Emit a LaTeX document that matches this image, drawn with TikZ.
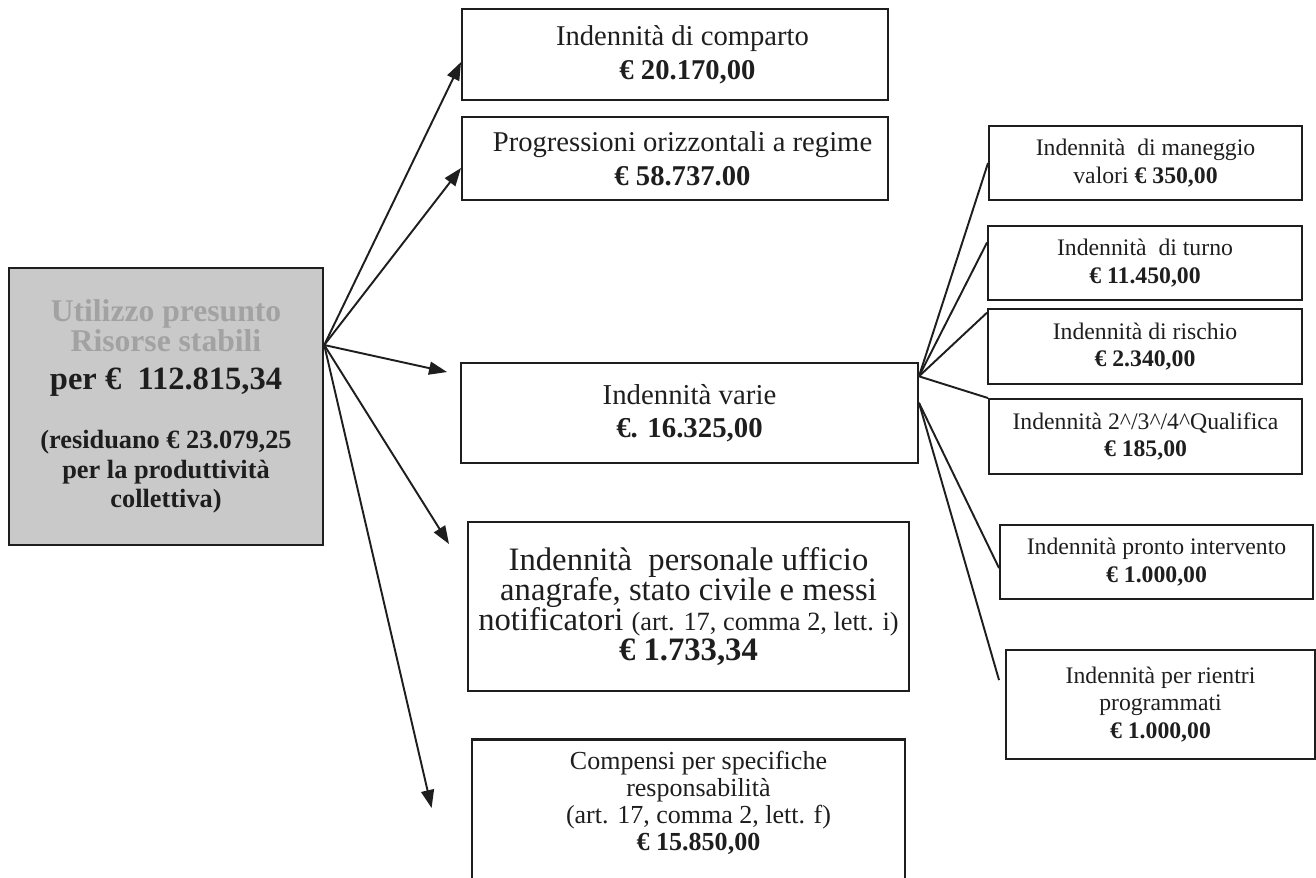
\documentclass[tikz,border=0pt]{standalone}
\usepackage{fontspec}
\setmainfont{Liberation Serif}
\usetikzlibrary{arrows.meta,calc}

\definecolor{boxgray}{HTML}{C9C9C9}
\definecolor{titlegray}{HTML}{A2A2A2}
\definecolor{ink}{HTML}{1E1E1E}

\tikzset{
  voce/.style 2 args={draw=ink, line width=1.1pt, inner sep=0pt, align=center,
    text=ink, minimum width=#1*0.02cm, minimum height=#2*0.02cm},
  freccia/.style={draw=ink, line width=1.1pt, -{Triangle[length=0.36cm,width=0.26cm]}},
  ramo/.style={draw=ink, line width=1.1pt},
  grande/.style={font=\fontsize{16.3}{19.4}\selectfont},
  piccola/.style={font=\fontsize{13.5}{15.6}\selectfont},
}

\begin{document}
\begin{tikzpicture}[x=0.02cm,y=-0.02cm]

		\useasboundingbox (0,0) rectangle (1316,877);
		\clip (0,0) rectangle (1316,877);

		% --- source box ---
		\node[voce={314}{277}, fill=boxgray, line width=1.4pt,
		      font=\bfseries\fontsize{15}{17}\selectfont] (risorse) at (166,406.5)
		  {\textcolor{titlegray}{\fontsize{18}{17}\selectfont Utilizzo presunto}\\
		   \textcolor{titlegray}{\fontsize{18}{17}\selectfont Risorse stabili}\\[4.6pt]
		   {\fontsize{18.5}{17}\selectfont per €\ \ 112.815,34}\\[16.6pt]
		   (residuano € 23.079,25\\
		   per la produttività\\
		   collettiva)};

		% ======================================================
		% middle column
		% ======================================================
		\node[voce={426}{91}, grande] (comparto) at (675,54.5)
		  {\hspace*{0.3cm}Indennità di comparto\\ \hspace*{0.5cm}\textbf{€ 20.170,00}};
		\node[voce={426}{83}, grande] (progressioni) at (675,158.5)
		  {\hspace*{0.3cm}Progressioni orizzontali a regime\\ \hspace*{0.3cm}\textbf{€ 58.737.00}};
		\node[voce={457}{100}, font=\fontsize{16.4}{18.6}\selectfont] (varie) at (689.5,413)
		  {Indennità varie\\ \textbf{€. 16.325,00}};
		\node[voce={441}{169}, font=\fontsize{18.6}{17.2}\selectfont] (anagrafe) at (688.5,606.5)
		  {Indennità\ \ personale ufficio\\
		   anagrafe, stato civile e messi\\
		   notificatori {\fontsize{15}{17}\selectfont (art. 17, comma 2, lett. i)}\\
		   \textbf{€ 1.733,34}};
		% box cut by the lower edge
		\node[voce={433}{0}, line width=1.6pt, anchor=north, inner ysep=6.5pt,
		      font=\fontsize{14.8}{15.4}\selectfont] (compensi) at (688.5,738)
		  {\hspace*{0.4cm}Compensi per specifiche\\
		   \hspace*{0.4cm}responsabilità\\
		   \hspace*{0.4cm}(art. 17, comma 2, lett. f)\\
		   \hspace*{0.4cm}\textbf{€ 15.850,00}\rule[-3cm]{0pt}{0pt}};

		% ======================================================
		% right column (Indennità varie)
		% ======================================================
		\node[voce={313}{74}, piccola] (maneggio) at (1145.5,163)
		  {Indennità\ \ di maneggio\\ valori \textbf{€ 350,00}};
		\node[voce={314}{74}, piccola] (turno) at (1145,263)
		  {Indennità\ \ di turno\\ \textbf{€ 11.450,00}};
		\node[voce={314}{75}, piccola] (rischio) at (1145,346.5)
		  {Indennità di rischio\\ \textbf{€ 2.340,00}};
		\node[voce={313}{75}, piccola] (qualifica) at (1145.5,436.5)
		  {Indennità 2\textasciicircum/3\textasciicircum/4\textasciicircum Qualifica\\ \textbf{€ 185,00}};
		\node[voce={313}{74}, piccola] (pronto) at (1156.5,562)
		  {Indennità pronto intervento\\ \textbf{€ 1.000,00}};
		\node[voce={309}{109}, piccola] (rientri) at (1160.5,704.5)
		  {Indennità per rientri\\ programmati\\ \textbf{€ 1.000,00}};

		% --- connector end points ---
		\coordinate (hub) at ($(risorse.north east)!0.28!(risorse.south east)$);
		\coordinate (alto) at ($(varie.north east)!0.14!(varie.south east)$);
		\coordinate (basso) at ($(varie.north east)!0.40!(varie.south east)$);

		% arrows from the source box
		\draw[freccia] (hub) -- ([yshift=-0.15cm]comparto.west);
		\draw[freccia] (hub) -- ([yshift=-0.19cm]progressioni.west);
		\draw[freccia] (hub) -- ([xshift=-0.26cm,yshift=-0.2cm]varie.north west);
		\draw[freccia] (hub) -- ([xshift=-0.36cm,yshift=-0.46cm]anagrafe.north west);
		\draw[freccia] (hub) -- ([xshift=-0.78cm,yshift=-1.4cm]compensi.north west);

		% branches of Indennità varie
		\draw[ramo] (alto) -- (maneggio.west);
		\draw[ramo] (alto) -- ($(turno.north west)!0.23!(turno.south west)$);
		\draw[ramo] (alto) -- ($(rischio.north west)!0.06!(rischio.south west)$);
		\draw[ramo] (alto) -- (qualifica.north west);
		\draw[ramo] (basso) -- ($(pronto.north west)!0.58!(pronto.south west)$);
		\draw[ramo] (basso) -- ([xshift=-0.12cm]$(rientri.north west)!0.28!(rientri.south west)$);

\end{tikzpicture}
\end{document}
